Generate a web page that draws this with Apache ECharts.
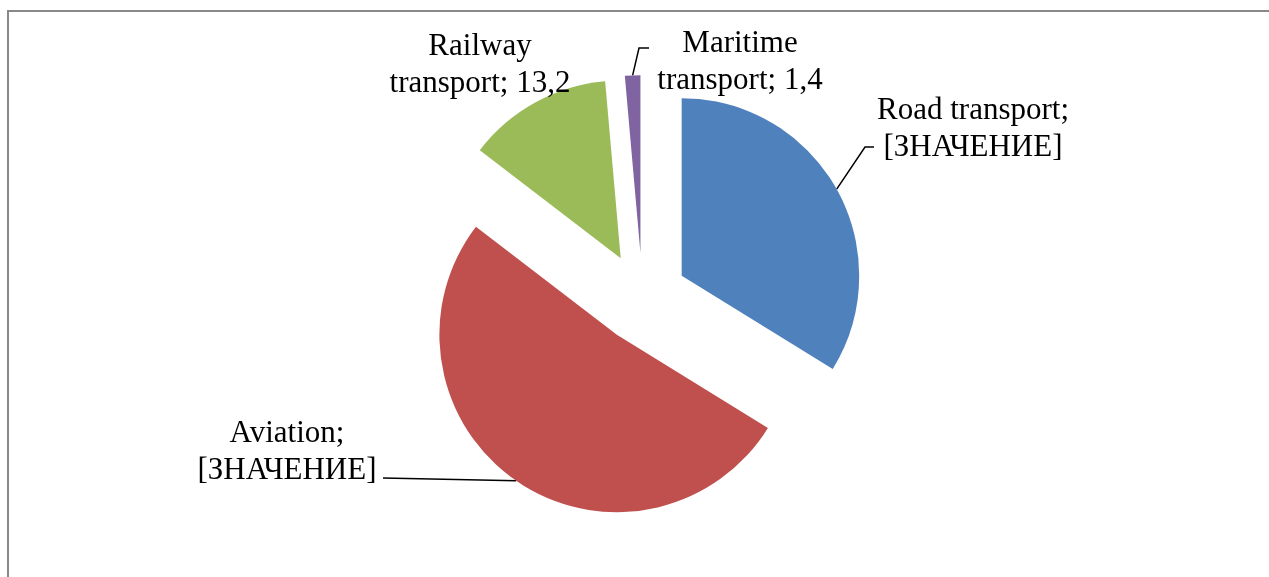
<!DOCTYPE html>
<html>
<head>
<meta charset="utf-8">
<script src="https://cdn.jsdelivr.net/npm/echarts@6/dist/echarts.min.js"></script>
<style>
  html, body { margin: 0; padding: 0; background: #ffffff; }
  #chart { width: 1269px; height: 577px; }
</style>
</head>
<body>
<div id="chart"></div>
<script>
// Share of transport modes
const categories = ['Road transport', 'Aviation', 'Railway transport', 'Maritime transport'];
const shares = [33.8, 51.6, 13.2, 1.4];
const valueTexts = ['[ЗНАЧЕНИЕ]', '[ЗНАЧЕНИЕ]', '13,2', '1,4'];
const sliceColors = ['#4F81BD', '#C0504D', '#9BBB59', '#8064A2'];

// Label block centres and the bend/end points of their leader lines
const labelSpots = [
  { x: 973, y: 129, line: [[865, 147], [874, 147]] },
  { x: 287, y: 452, line: [[383, 478]] },
  { x: 480, y: 65, line: null },
  { x: 740, y: 62, line: [[639, 48], [649, 48]] }
];

const pieCenter = [642.4, 297.6];
const pieRadius = 177.5;
const explode = 45;

function labelText(i) {
  const txt = valueTexts[i];
  if (i === 0) return categories[0] + ';\n' + txt;
  if (i === 1) return categories[1] + ';\n' + txt;
  const parts = categories[i].split(' ');
  return parts[0] + '\n' + parts[1] + '; ' + txt;
}

const total = shares.reduce((a, b) => a + b, 0);

// One series per slice: each is shifted outward along its own mid-angle,
// with every other slice left invisible.
const series = [];
let cum = 0;
shares.forEach((v, k) => {
  const mid = (cum + v / 2) / total * 2 * Math.PI; // clockwise from 12 o'clock
  cum += v;
  const cx = pieCenter[0] + explode * Math.sin(mid);
  const cy = pieCenter[1] - explode * Math.cos(mid);
  series.push({
    type: 'pie',
    center: [cx, cy],
    radius: pieRadius,
    startAngle: 90,
    clockwise: true,
    avoidLabelOverlap: false,
    silent: true,
    emphasis: { disabled: true },
    itemStyle: { borderWidth: 0 },
    label: {
      fontFamily: 'Liberation Serif',
      fontSize: 31,
      lineHeight: 37,
      color: '#000000',
      align: 'center',
      formatter: function (p) { return labelText(p.dataIndex); }
    },
    labelLine: {
      length: 10,
      length2: 10,
      lineStyle: { color: '#000000', width: 1.5 }
    },
    labelLayout: function (p) {
      const spot = labelSpots[p.dataIndex];
      const out = { x: spot.x, y: spot.y, align: 'center', verticalAlign: 'middle' };
      if (spot.line && p.labelLinePoints) {
        out.labelLinePoints = [p.labelLinePoints[0]].concat(spot.line);
      }
      return out;
    },
    data: categories.map((name, i) => ({
      name: name,
      value: shares[i],
      itemStyle: i === k ? { color: sliceColors[i] } : { color: 'rgba(0,0,0,0)' },
      label: { show: i === k, position: 'outside' },
      labelLine: { show: i === k && labelSpots[i].line !== null }
    }))
  });
});

const chart = echarts.init(document.getElementById('chart'), null, { renderer: 'canvas' });

chart.setOption({
  animation: false,
  backgroundColor: '#ffffff',
  graphic: [{
    type: 'rect',
    shape: { x: 8, y: 11, width: 1400, height: 700 },
    style: { fill: 'none', stroke: '#898989', lineWidth: 2 },
    silent: true
  }],
  series: series
});
</script>
</body>
</html>
